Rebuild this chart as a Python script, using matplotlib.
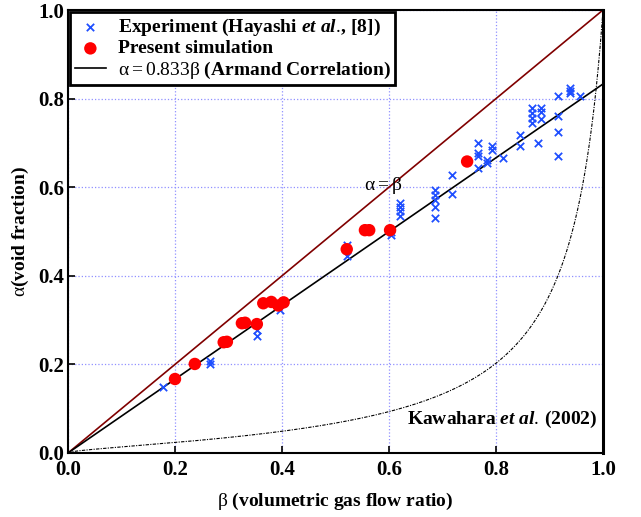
import numpy as np
import matplotlib
matplotlib.use("Agg")
import matplotlib.pyplot as plt

plt.rcParams['font.family'] = ['Liberation Serif', 'DejaVu Serif']
plt.rcParams['mathtext.fontset'] = 'custom'
plt.rcParams['mathtext.rm'] = 'Liberation Serif:weight=normal'
plt.rcParams['mathtext.bf'] = 'Liberation Serif:weight=bold'
plt.rcParams['mathtext.it'] = 'Liberation Serif:italic:weight=bold'

# Experiment (Hayashi et al.)
exp_beta = [0.178, 0.266, 0.266, 0.353, 0.353, 0.396, 0.522, 0.522, 0.604, 0.604,
            0.620, 0.620, 0.620, 0.620, 0.686, 0.686, 0.686, 0.686, 0.686,
            0.718, 0.718, 0.766, 0.766, 0.766, 0.766, 0.784, 0.784, 0.792, 0.792,
            0.814, 0.845, 0.845, 0.868, 0.868, 0.868, 0.868, 0.884, 0.884, 0.884,
            0.879, 0.916, 0.916, 0.916, 0.916, 0.939, 0.939, 0.939, 0.957]
exp_alpha = [0.149, 0.201, 0.208, 0.265, 0.278, 0.322, 0.470, 0.445, 0.500, 0.492,
             0.564, 0.555, 0.547, 0.535, 0.594, 0.582, 0.570, 0.555, 0.530,
             0.627, 0.585, 0.699, 0.677, 0.670, 0.643, 0.661, 0.655, 0.692, 0.684,
             0.665, 0.718, 0.693, 0.778, 0.767, 0.756, 0.744, 0.778, 0.770, 0.755,
             0.700, 0.806, 0.761, 0.725, 0.670, 0.823, 0.818, 0.813, 0.806]

# Present simulation
sim_beta = [0.200, 0.237, 0.291, 0.297, 0.325, 0.331, 0.353, 0.365, 0.380, 0.393,
            0.403, 0.521, 0.555, 0.563, 0.602, 0.746]
sim_alpha = [0.167, 0.201, 0.250, 0.251, 0.293, 0.294, 0.291, 0.338, 0.341, 0.333,
             0.340, 0.460, 0.503, 0.503, 0.503, 0.658]

# Correlations
armand_coef = 0.833
kaw_c1, kaw_c2 = 0.03, 0.97

ticks = [0.0, 0.2, 0.4, 0.6, 0.8, 1.0]
tick_labels = ['0.0', '0.2', '0.4', '0.6', '0.8', '1.0']

fig = plt.figure(figsize=(6.41, 5.17), dpi=100)
ax = fig.add_axes([68/641, 1-453/517, (603-68)/641, (453-10)/517])

ax.grid(True, linestyle=':', color='#9090ff', linewidth=0.9)
ax.set_axisbelow(True)

b = np.linspace(0, 1, 400)
ax.plot(b, b, color='#800000', lw=1.2, zorder=2)
ax.plot(b, armand_coef*b, color='black', lw=1.2, zorder=2,
        label=r'$\mathrm{\alpha = 0.833\beta}$ (Armand Correlation)')
bk = np.linspace(0, 0.9995, 2000)
ax.plot(bk, kaw_c1*np.sqrt(bk)/(1-kaw_c2*np.sqrt(bk)), color='black', lw=0.8,
        linestyle=(0, (3, 1.2, 1, 1.2)), zorder=2)

ax.scatter(exp_beta, exp_alpha, marker='x', color='#1f4fff', s=28, linewidths=1.3,
           zorder=3, label=r'Experiment (Hayashi $\mathit{et\ al.}\!$, [8])')
ax.scatter(sim_beta, sim_alpha, marker='o', color='red', s=80, zorder=4,
           edgecolors='none', label='Present simulation')

ax.text(0.59, 0.603, r'$\mathrm{\alpha = \beta}$', fontsize=14, ha='center', va='center')
ax.text(0.99, 0.075, r'Kawahara $\mathit{et\ al.}\!$ (2002)', fontsize=14,
        fontweight='bold', ha='right', va='center')

ax.set_xlim(0, 1)
ax.set_ylim(0, 1)
ax.set_xticks(ticks)
ax.set_yticks(ticks)
ax.set_xticklabels(tick_labels, fontsize=15, fontweight='bold')
ax.set_yticklabels(tick_labels, fontsize=15, fontweight='bold')
ax.tick_params(direction='in', length=5, width=1.2, pad=3)
ax.tick_params(axis='x', pad=5)
for s in ax.spines.values():
    s.set_linewidth(1.5)
ax.spines['right'].set_linewidth(2.2)

ax.set_xlabel(r'$\mathrm{\beta}$ (volumetric gas flow ratio)', fontsize=14,
              fontweight='bold', labelpad=8)
ax.set_ylabel(r'$\mathrm{\alpha}$(void fraction)', fontsize=14,
              fontweight='bold', labelpad=5)

handles, labels = ax.get_legend_handles_labels()
order = [1, 2, 0]
leg = ax.legend([handles[i] for i in order], [labels[i] for i in order],
                loc='upper left', borderaxespad=0.1, fancybox=False,
                edgecolor='black', framealpha=1, handlelength=1.6, handletextpad=0.6,
                borderpad=0.25, labelspacing=0.1, prop={'weight': 'bold', 'size': 14})
leg.get_frame().set_linewidth(2.0)

fig.savefig('out.png', dpi=100)
